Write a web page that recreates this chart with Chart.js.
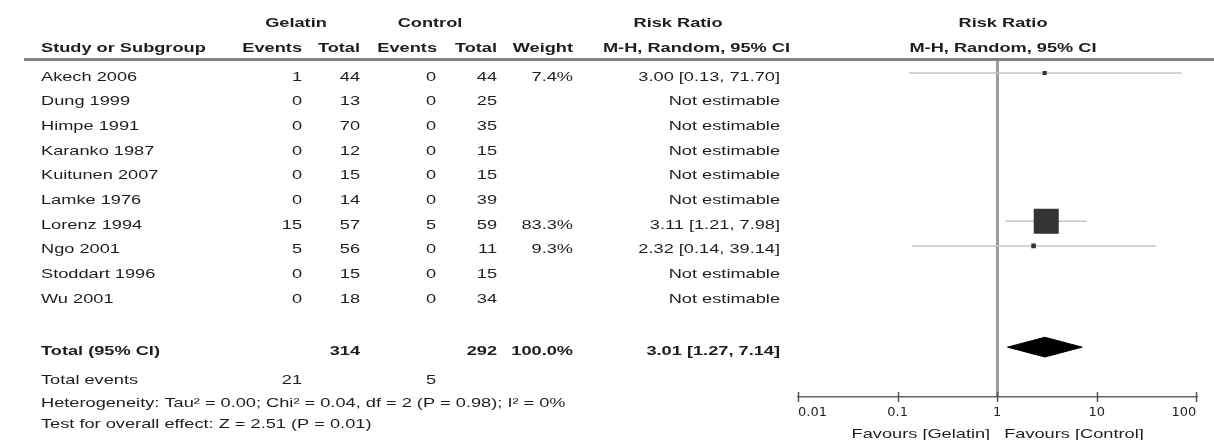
<!DOCTYPE html>
<html>
<head>
<meta charset="utf-8">
<title>Gelatin vs control: risk ratio forest plot</title>
<script src="https://cdn.jsdelivr.net/npm/chart.js@4.4.1/dist/chart.umd.min.js"></script>
<style>
  html, body { margin: 0; padding: 0; background: #ffffff; }
  canvas { display: block; }
</style>
</head>
<body>
<canvas id="forest" width="1214" height="440"></canvas>
<script>
// ---- study data ----
const studies = ['Akech 2006', 'Dung 1999', 'Himpe 1991', 'Karanko 1987', 'Kuitunen 2007',
                 'Lamke 1976', 'Lorenz 1994', 'Ngo 2001', 'Stoddart 1996', 'Wu 2001'];
const gelatinEvents = [1, 0, 0, 0, 0, 0, 15, 5, 0, 0];
const gelatinTotal  = [44, 13, 70, 12, 15, 14, 57, 56, 15, 18];
const controlEvents = [0, 0, 0, 0, 0, 0, 5, 0, 0, 0];
const controlTotal  = [44, 25, 35, 15, 15, 39, 59, 11, 15, 34];
const weights   = [7.4, null, null, null, null, null, 83.3, 9.3, null, null];
const riskRatio = [3.00, null, null, null, null, null, 3.11, 2.32, null, null];
const ciLower   = [0.13, null, null, null, null, null, 1.21, 0.14, null, null];
const ciUpper   = [71.70, null, null, null, null, null, 7.98, 39.14, null, null];

// ---- pooled result ----
const pooledRR = 3.01;
const pooledLower = 1.27;
const pooledUpper = 7.14;
const pooledGelatinTotal = 314;
const pooledControlTotal = 292;
const pooledWeight = 100.0;
const totalGelatinEvents = 21;
const totalControlEvents = 5;
const heterogeneityText = 'Heterogeneity: Tau\u00B2 = 0.00; Chi\u00B2 = 0.04, df = 2 (P = 0.98); I\u00B2 = 0%';
const overallEffectText = 'Test for overall effect: Z = 2.51 (P = 0.01)';

// ---- axis ----
const axisTicks  = [0.01, 0.1, 1, 10, 100];
const tickLabels = ['0.01', '0.1', '1', '10', '100'];
const favourLeft  = 'Favours [Gelatin]';
const favourRight = 'Favours [Control]';

// ---- layout & style ----
const TOTAL_ROW = 11.1;          // row position of the pooled diamond
const DIAMOND_HALF = 0.4;        // diamond half height, in row units
const FONT = '"Liberation Sans", Arial, sans-serif';
const FONT_SIZE = 13;
const TEXT_SX = 1.4;             // horizontal stretch of the table lettering
const TEXT_COLOR = '#1e1e1e';

const estimable = studies.map((_, i) => i).filter(i => riskRatio[i] !== null);
const squareSide = w => 2 + 23 * w / 83.3;

function fmt2(v) { return v.toFixed(2); }
function rrLabel(rr, lo, hi) { return fmt2(rr) + ' [' + fmt2(lo) + ', ' + fmt2(hi) + ']'; }

function put(ctx, text, x, y, align, bold, size) {
  ctx.save();
  ctx.translate(x, y);
  ctx.scale(TEXT_SX, 1);
  ctx.font = (bold ? 'bold ' : '') + (size || FONT_SIZE) + 'px ' + FONT;
  ctx.fillStyle = TEXT_COLOR;
  ctx.textAlign = align;
  ctx.textBaseline = 'middle';
  ctx.fillText(text, 0, 0);
  ctx.restore();
}

// Table columns, header rule, tick marks and footer text
const tablePlugin = {
  id: 'forestTable',
  afterDraw(chart) {
    const ctx = chart.ctx;
    const ys = chart.scales.y;
    const xs = chart.scales.x;
    const rowY = r => ys.getPixelForValue(r) + 4;

    // header rule
    ctx.save();
    ctx.strokeStyle = '#858585';
    ctx.lineWidth = 3;
    ctx.beginPath();
    ctx.moveTo(24, 59.5);
    ctx.lineTo(1214, 59.5);
    ctx.stroke();
    ctx.restore();

    // headers
    put(ctx, 'Gelatin', 296, 23, 'center', true);
    put(ctx, 'Control', 430, 23, 'center', true);
    put(ctx, 'Risk Ratio', 678, 23, 'center', true);
    put(ctx, 'Risk Ratio', 1003, 23, 'center', true);
    put(ctx, 'Study or Subgroup', 41, 48, 'left', true);
    put(ctx, 'Events', 302, 48, 'right', true);
    put(ctx, 'Total', 360, 48, 'right', true);
    put(ctx, 'Events', 437, 48, 'right', true);
    put(ctx, 'Total', 497, 48, 'right', true);
    put(ctx, 'Weight', 573, 48, 'right', true);
    put(ctx, 'M-H, Random, 95% CI', 790, 48, 'right', true);
    put(ctx, 'M-H, Random, 95% CI', 1003, 48, 'center', true);

    // study rows
    studies.forEach((name, i) => {
      const y = rowY(i);
      put(ctx, name, 41, y, 'left');
      put(ctx, String(gelatinEvents[i]), 302, y, 'right');
      put(ctx, String(gelatinTotal[i]), 360, y, 'right');
      put(ctx, String(controlEvents[i]), 436, y, 'right');
      put(ctx, String(controlTotal[i]), 497, y, 'right');
      if (weights[i] !== null) put(ctx, weights[i].toFixed(1) + '%', 573, y, 'right');
      put(ctx, riskRatio[i] === null ? 'Not estimable' : rrLabel(riskRatio[i], ciLower[i], ciUpper[i]), 780, y, 'right');
    });

    // pooled row
    const ty = rowY(TOTAL_ROW);
    put(ctx, 'Total (95% CI)', 41, ty, 'left', true);
    put(ctx, String(pooledGelatinTotal), 360, ty, 'right', true);
    put(ctx, String(pooledControlTotal), 497, ty, 'right', true);
    put(ctx, pooledWeight.toFixed(1) + '%', 573, ty, 'right', true);
    put(ctx, rrLabel(pooledRR, pooledLower, pooledUpper), 780, ty, 'right', true);

    // footer
    put(ctx, 'Total events', 41, ty + 29, 'left');
    put(ctx, String(totalGelatinEvents), 302, ty + 29, 'right');
    put(ctx, String(totalControlEvents), 436, ty + 29, 'right');
    put(ctx, heterogeneityText, 41, ty + 52, 'left');
    put(ctx, overallEffectText, 41, ty + 73, 'left');

    // tick marks crossing the axis line
    const axisY = xs.top;
    ctx.save();
    ctx.strokeStyle = '#555555';
    ctx.lineWidth = 1.5;
    xs.ticks.forEach(t => {
      const px = Math.round(xs.getPixelForValue(t.value)) + 0.5;
      ctx.beginPath();
      ctx.moveTo(px, axisY - 5);
      ctx.lineTo(px, axisY + 5);
      ctx.stroke();
    });
    ctx.restore();

    // direction labels under the axis
    const one = xs.getPixelForValue(1);
    put(ctx, favourLeft, one - 7, 434, 'right');
    put(ctx, favourRight, one + 7, 434, 'left');
  }
};

const ciSets = estimable.map(i => ({
  type: 'line',
  data: [{ x: ciLower[i], y: i }, { x: ciUpper[i], y: i }],
  borderColor: '#c6c6c6',
  borderWidth: 1.5,
  pointRadius: 0,
  fill: false,
  order: 3
}));

const squareSet = {
  type: 'scatter',
  data: estimable.map(i => ({ x: riskRatio[i], y: i })),
  pointStyle: 'rect',
  pointRadius: ctx => squareSide(weights[estimable[ctx.dataIndex]]) / (2 * Math.SQRT1_2),
  backgroundColor: '#333333',
  borderWidth: 0,
  order: 1
};

const diamondSet = {
  type: 'line',
  data: [
    { x: pooledLower, y: TOTAL_ROW },
    { x: pooledRR, y: TOTAL_ROW - DIAMOND_HALF },
    { x: pooledUpper, y: TOTAL_ROW },
    { x: pooledRR, y: TOTAL_ROW + DIAMOND_HALF },
    { x: pooledLower, y: TOTAL_ROW }
  ],
  borderColor: '#000000',
  backgroundColor: '#000000',
  borderWidth: 1,
  pointRadius: 0,
  fill: 'shape',
  tension: 0,
  order: 2
};

new Chart(document.getElementById('forest'), {
  type: 'scatter',
  data: { datasets: [...ciSets, squareSet, diamondSet] },
  options: {
    responsive: false,
    animation: false,
    devicePixelRatio: 1,
    layout: { padding: { left: 798, right: 9, top: 60, bottom: 0 } },
    plugins: { legend: { display: false }, tooltip: { enabled: false } },
    scales: {
      x: {
        type: 'logarithmic',
        position: 'bottom',
        min: 0.01,
        max: 100,
        afterBuildTicks: s => { s.ticks = axisTicks.map(v => ({ value: v, major: true })); },
        afterFit: s => { s.height = 43; },
        ticks: {
          autoSkip: false,
          maxRotation: 0,
          align: 'inner',
          padding: 8,
          color: '#222222',
          font: { family: '"DejaVu Sans", sans-serif', size: 13 },
          callback: (v, i) => tickLabels[i]
        },
        grid: {
          drawTicks: false,
          color: c => (c.tick && c.tick.value === 1) ? '#9c9c9c' : 'rgba(0,0,0,0)',
          lineWidth: 3
        },
        border: { display: true, color: '#666666', width: 1.5 }
      },
      y: {
        type: 'linear',
        display: false,
        reverse: true,
        min: -0.53,
        max: 13.12
      }
    }
  },
  plugins: [tablePlugin]
});
</script>
</body>
</html>
